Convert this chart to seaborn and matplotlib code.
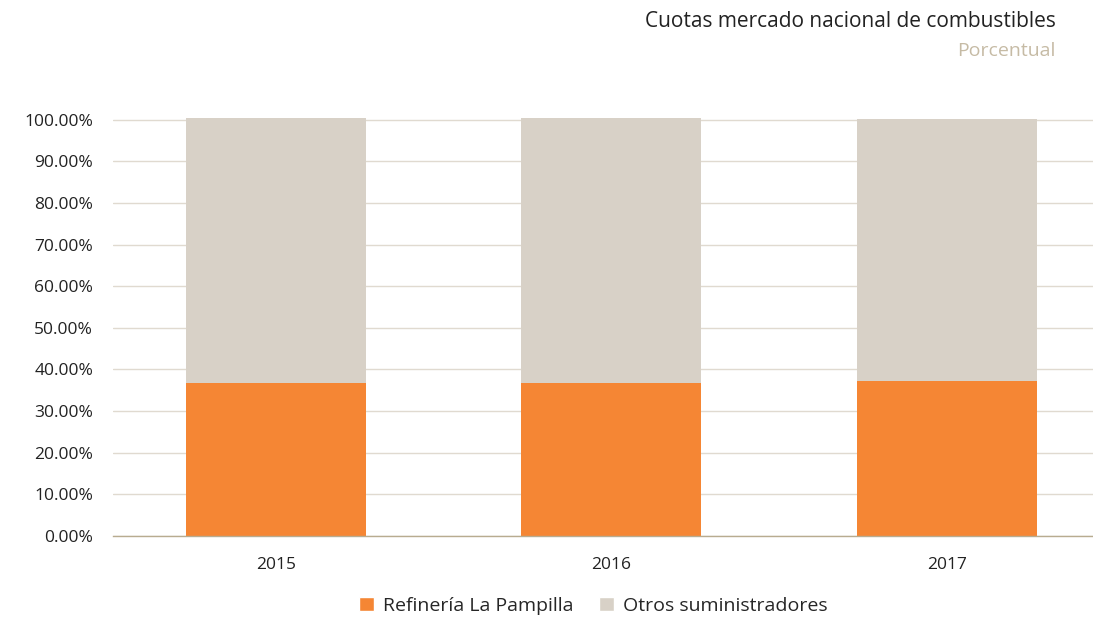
import matplotlib
matplotlib.use("Agg")
import matplotlib.pyplot as plt
import seaborn as sns
import pandas as pd
from matplotlib.patches import Patch
from matplotlib.ticker import FuncFormatter

years = ["2015", "2016", "2017"]
refineria = [36.8, 36.8, 37.3]
otros = [63.7, 63.7, 62.9]
yticks = [0, 10, 20, 30, 40, 50, 60, 70, 80, 90, 100]

orange = "#F58634"
gray = "#D8D1C7"

sns.set_theme(style="white")
plt.rcParams['font.family'] = ['Open Sans', 'DejaVu Sans']

df = pd.DataFrame({"year": years, "refineria": refineria, "otros": otros})
df["total"] = df["refineria"] + df["otros"]

fig = plt.figure(figsize=(10.93, 6.21), dpi=100)
ax = fig.add_axes([0.103, 0.137, 0.897, 0.6767])

sns.barplot(data=df, x="year", y="total", color=gray, saturation=1, width=0.537, ax=ax,
            zorder=3, linewidth=0)
sns.barplot(data=df, x="year", y="refineria", color=orange, saturation=1, width=0.537, ax=ax,
            zorder=4, linewidth=0)

ax.set_ylim(0, 101)
ax.set_xlim(-0.486, 2.435)
ax.set_yticks(yticks)
ax.yaxis.set_major_formatter(FuncFormatter(lambda v, p: f"{v:.2f}%"))
ax.grid(axis="y", color="#E0DAD0", linewidth=1, zorder=0)
ax.grid(axis="x", visible=False)
for s in ["top", "right", "left"]:
    ax.spines[s].set_visible(False)
ax.spines["bottom"].set_color("#B8AC90")
ax.spines["bottom"].set_linewidth(1)
ax.spines["bottom"].set_zorder(5)
ax.set_xlabel("")
ax.set_ylabel("")
ax.tick_params(axis="both", length=0, labelsize=12.5, labelcolor="#222222")
ax.tick_params(axis="x", pad=15)
ax.tick_params(axis="y", pad=14)

fig.text(0.966, 0.965, "Cuotas mercado nacional de combustibles", ha="right", va="center",
         fontsize=15, color="#222222")
fig.text(0.966, 0.918, "Porcentual", ha="right", va="center", fontsize=14, color="#C6BBA5")

handles = [Patch(facecolor=orange, label="Refinería La Pampilla"),
           Patch(facecolor=gray, label="Otros suministradores")]
fig.legend(handles=handles, loc="center", bbox_to_anchor=(0.543, 0.024), ncol=2, frameon=False,
           fontsize=14, handlelength=0.75, handleheight=0.75, handletextpad=0.5, columnspacing=1.3)

fig.savefig("out.png", dpi=100)
